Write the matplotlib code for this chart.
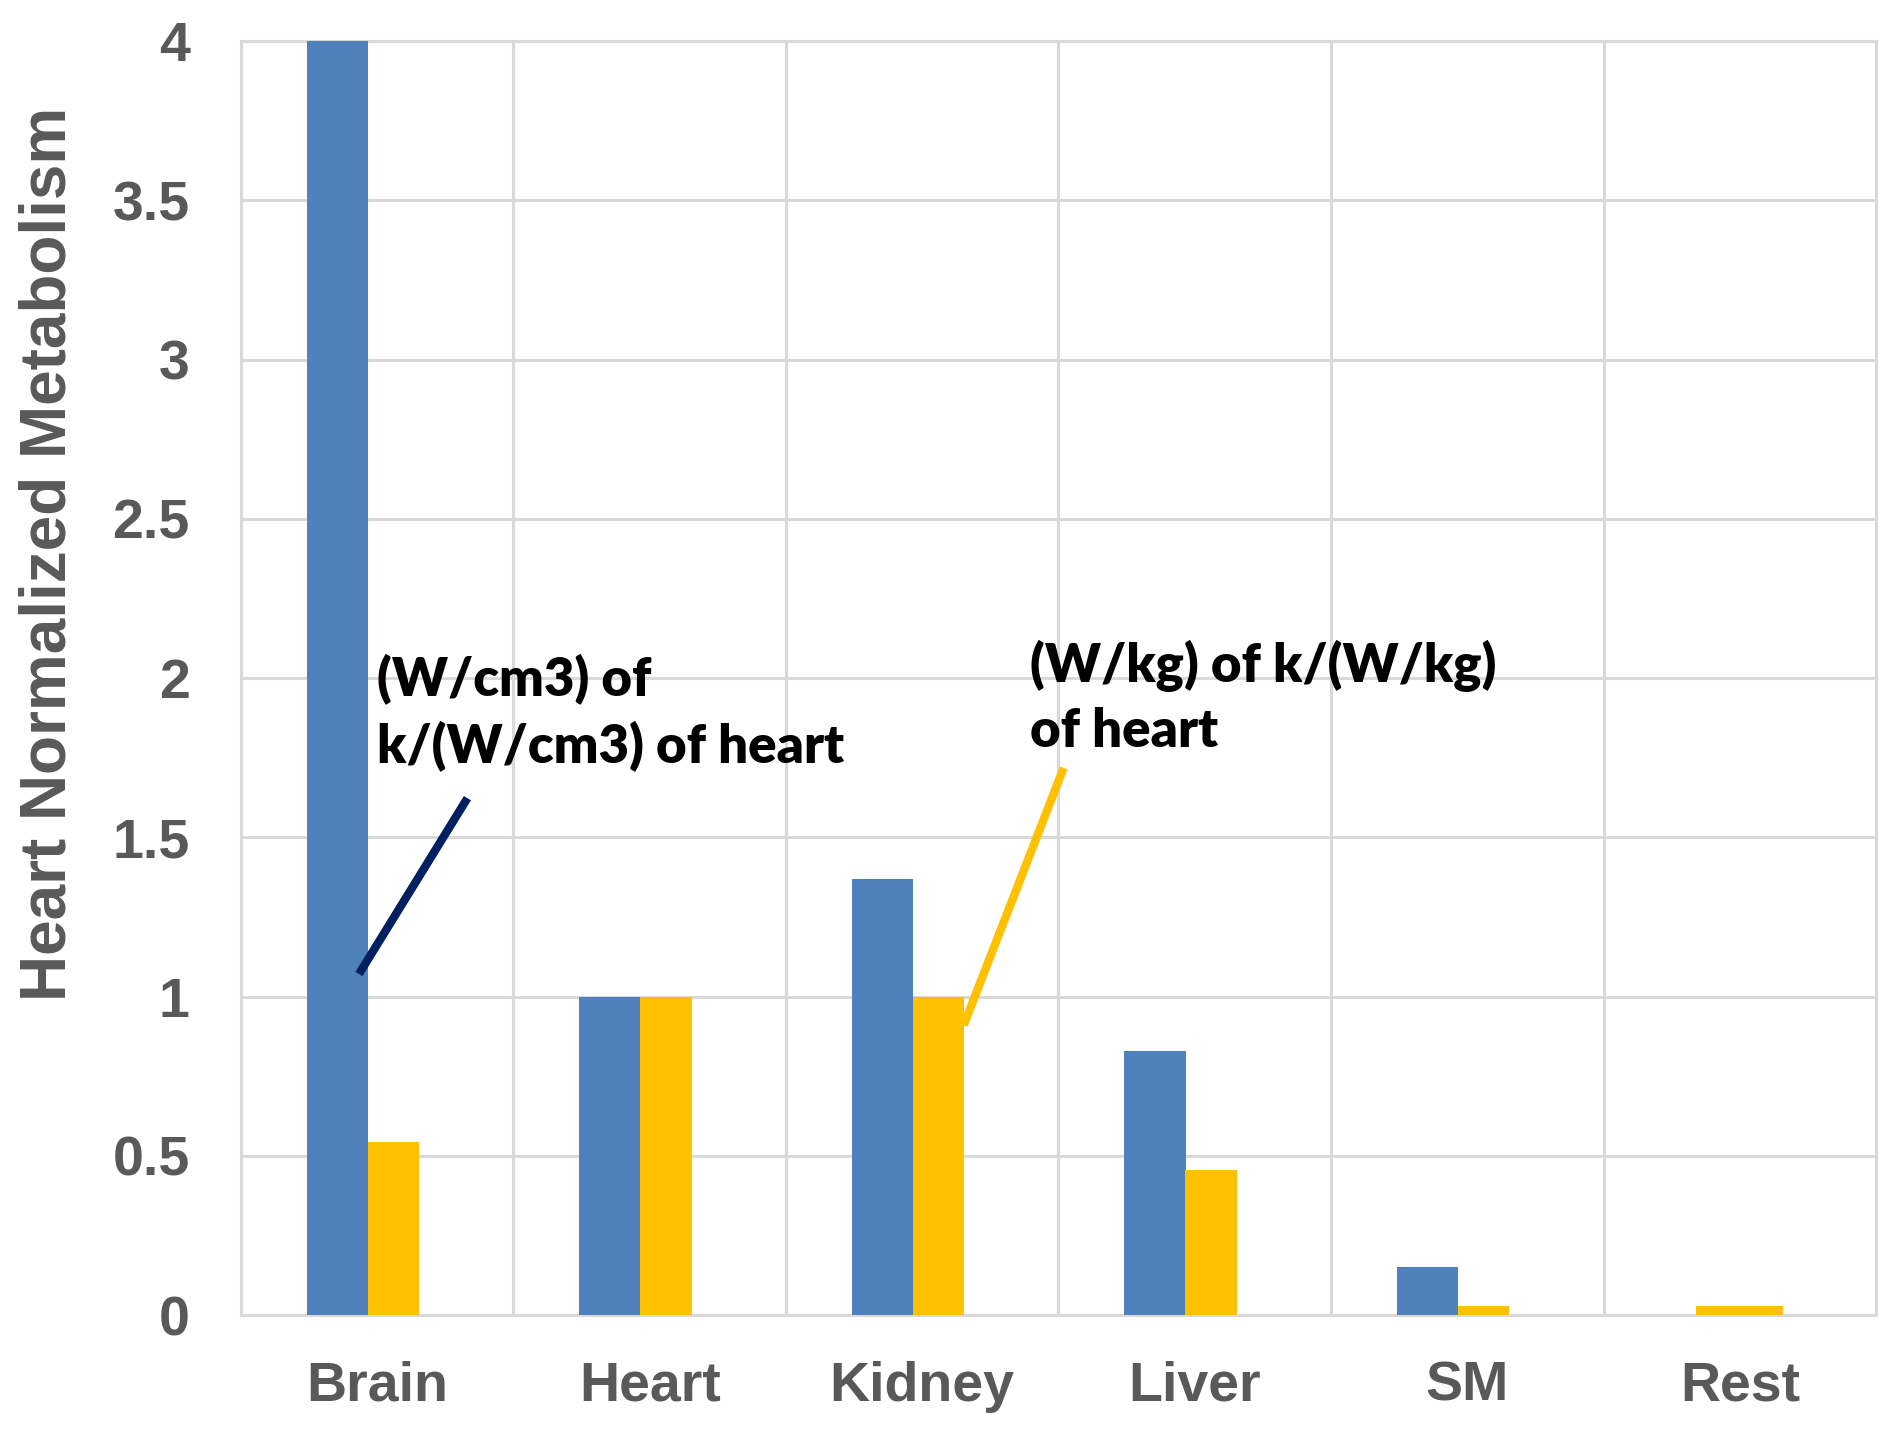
import matplotlib.pyplot as plt
import numpy as np

organs = ["Brain", "Heart", "Kidney", "Liver", "SM", "Rest"]
per_volume = [4.0, 1.0, 1.37, 0.83, 0.15, 0.0]    # (W/cm3) normalized to heart
per_mass = [0.545, 1.0, 1.0, 0.455, 0.03, 0.027]  # (W/kg) normalized to heart
y_ticks = [0, 0.5, 1, 1.5, 2, 2.5, 3, 3.5, 4]
y_tick_labels = ["0", "0.5", "1", "1.5", "2", "2.5", "3", "3.5", "4"]

blue = "#4F81BD"
gold = "#FFC000"
grid_c = "#D9D9D9"
txt_c = "#595959"

fig = plt.figure(figsize=(18.9, 14.31), dpi=100)
ax = fig.add_axes([0.1275, 0.081, 0.8651, 0.8903])

x = np.arange(len(organs))
# Excel-style bars: blue left of center, gold right; "Rest" gold bar is centered and wider
ax.bar(x[:5] - 0.146, per_volume[:5], width=0.225, color=blue, zorder=3)
ax.bar(x[:5] + 0.06, per_mass[:5], width=0.19, color=gold, zorder=3)
ax.bar(x[5], per_mass[5], width=0.32, color=gold, zorder=3)

ax.set_xlim(-0.5, 5.5)
ax.set_ylim(0, 4)
ax.set_xticks(x)
ax.set_xticklabels(organs)
ax.set_xticks(np.arange(-0.5, 6, 1), minor=True)
ax.set_yticks(y_ticks)
ax.set_yticklabels(y_tick_labels)

ax.grid(axis="y", which="major", color=grid_c, linewidth=2.2, zorder=0)
ax.grid(axis="x", which="minor", color=grid_c, linewidth=2.2, zorder=0)
for s in ax.spines.values():
    s.set_color(grid_c)
    s.set_linewidth(2.2)

ax.tick_params(axis="both", which="both", length=0)
ax.tick_params(axis="y", pad=37, labelsize=40, labelcolor=txt_c)
ax.tick_params(axis="x", pad=33, labelsize=40, labelcolor=txt_c)
for lab in ax.get_xticklabels() + ax.get_yticklabels():
    lab.set_fontfamily("Liberation Sans")
    lab.set_fontweight("bold")

fig.text(0.0254, 0.613, "Heart Normalized Metabolism", rotation=90,
         ha="center", va="center", fontsize=46, color=txt_c,
         family="Liberation Sans", fontweight="bold")

# callouts
ax.plot([-0.067, 0.331], [1.071, 1.623], color="#002060", linewidth=6,
        solid_capstyle="butt", zorder=4)
ax.text(0.0, 2.075, "(W/cm3) of\nk/(W/cm3) of heart", ha="left", va="top",
        fontsize=38, family="Lato", fontweight="heavy", color="black",
        linespacing=1.38, zorder=5)

ax.plot([2.152, 2.519], [0.91, 1.718], color=gold, linewidth=6,
        solid_capstyle="butt", zorder=4)
ax.text(2.396, 2.12, "(W/kg) of k/(W/kg)\nof heart", ha="left", va="top",
        fontsize=38, family="Lato", fontweight="heavy", color="black",
        linespacing=1.38, zorder=5)

plt.savefig("out.png", dpi=100)
